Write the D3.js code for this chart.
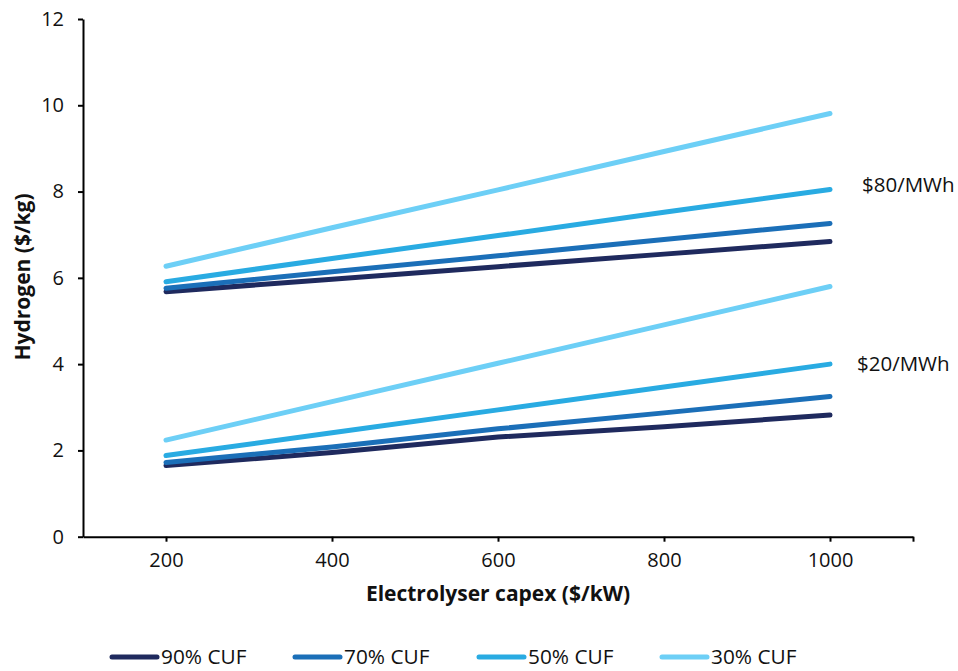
<!DOCTYPE html>
<html><head><meta charset="utf-8">
<script src="https://cdn.jsdelivr.net/npm/d3@7"></script>
<style>body{margin:0;background:#fff}svg{display:block}text{font-family:"Open Sans","Noto Sans",sans-serif}</style>
</head><body><svg id="c" width="958" height="671"></svg>
<script>
const capex = [200, 400, 600, 800, 1000];
const seriesNames = ["90% CUF", "70% CUF", "50% CUF", "30% CUF"];
const colors = ["#1f2a5e", "#1b6fb8", "#29abe2", "#6dcff6"];
// $80/MWh group
const high90 = [5.68, 5.97, 6.26, 6.55, 6.84];
const high70 = [5.76, 6.14, 6.51, 6.89, 7.26];
const high50 = [5.91, 6.45, 6.98, 7.52, 8.05];
const high30 = [6.27, 7.16, 8.04, 8.93, 9.81];
// $20/MWh group
const low90 = [1.65, 1.95, 2.31, 2.55, 2.82];
const low70 = [1.72, 2.08, 2.50, 2.87, 3.25];
const low50 = [1.88, 2.41, 2.94, 3.47, 4.00];
const low30 = [2.24, 3.13, 4.02, 4.91, 5.80];
const yTicks = [0, 2, 4, 6, 8, 10, 12];
const xTicks = [200, 400, 600, 800, 1000];
const groupLabels = ["$80/MWh", "$20/MWh"];

const svg = d3.select("#c");
const x = d3.scaleLinear().domain([100, 1100]).range([83, 913]);
const y = d3.scaleLinear().domain([0, 12]).range([536.7, 19]);

// axes
const yAxis = d3.axisLeft(y).tickValues(yTicks).tickSize(5).tickSizeOuter(0).tickPadding(14);
const gy = svg.append("g").attr("transform", "translate(83,0)").call(yAxis);
const xAxis = d3.axisBottom(x).tickValues(xTicks.concat([1100])).tickFormat(d => d === 1100 ? "" : d).tickSize(5).tickSizeOuter(0).tickPadding(11);
const gx = svg.append("g").attr("transform", "translate(0,536.7)").call(xAxis);
[gx, gy].forEach(g => {
  g.select(".domain").attr("stroke", "#000").attr("stroke-width", 2);
  g.selectAll(".tick line").attr("stroke", "#000").attr("stroke-width", 2);
  g.selectAll(".tick text").attr("font-size", 20).attr("fill", "#111");
});

// lines
const line = d3.line().x((d, i) => x(capex[i])).y(d => y(d));
const groups = [[high90, high70, high50, high30], [low90, low70, low50, low30]];
groups.forEach(g => {
  g.forEach((vals, i) => {
    svg.append("path").datum(vals).attr("d", line)
      .attr("fill", "none").attr("stroke", colors[i]).attr("stroke-width", 5)
      .attr("stroke-linecap", "round").attr("stroke-linejoin", "round");
  });
});

// group labels
svg.append("text").attr("x", 862).attr("y", 192).attr("font-size", 20.5).attr("fill", "#111").text(groupLabels[0]);
svg.append("text").attr("x", 857).attr("y", 371).attr("font-size", 20.5).attr("fill", "#111").text(groupLabels[1]);

// axis titles
svg.append("text").attr("x", 498).attr("y", 601).attr("text-anchor", "middle")
  .attr("font-size", 21).attr("font-weight", "bold").attr("fill", "#111").text("Electrolyser capex ($/kW)");
svg.append("text").attr("transform", "translate(30,277) rotate(-90)").attr("text-anchor", "middle")
  .attr("font-size", 21).attr("font-weight", "bold").attr("fill", "#111").text("Hydrogen ($/kg)");

// legend
const legendX = [110, 293, 477, 660];
seriesNames.forEach((n, i) => {
  const g = svg.append("g").attr("transform", `translate(${legendX[i]},657)`);
  g.append("line").attr("x1", 2).attr("x2", 47).attr("y1", 0).attr("y2", 0)
    .attr("stroke", colors[i]).attr("stroke-width", 5).attr("stroke-linecap", "round");
  g.append("text").attr("x", 51).attr("y", 7).attr("font-size", 20.8).attr("fill", "#111").text(n);
});
</script></body></html>
